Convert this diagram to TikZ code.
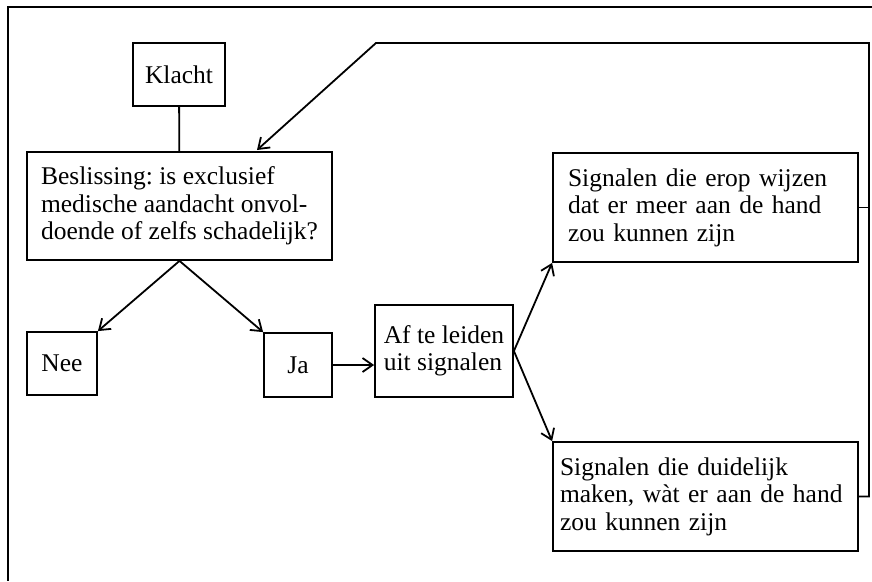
\documentclass[tikz,border=0pt]{standalone}
\usepackage{fontspec}
\setmainfont{Liberation Serif}
\usetikzlibrary{arrows.meta}
\frenchspacing

\begin{document}
\begin{tikzpicture}
  [x=1pt,y=-1pt,line width=1.8pt,>={Straight Barb[length=10pt,width=14pt]},
   every node/.style={draw,rectangle,inner sep=0pt,font=\fontsize{25.5}{27.5}\selectfont},
   txt/.style={align=left,minimum width=#1},
   ltxt/.style={align=left,text width=#1}]
  \useasboundingbox (0,0) rectangle (872,581);

  \node [minimum width=92pt,minimum height=63pt] (klacht) at (179,74.5) {Klacht};
  \node [txt=305pt,minimum height=108pt] (besl) at (179.5,206) {Beslissing: is exclusief\\ medische aandacht onvol-\\ doende of zelfs schadelijk?};
  \node [minimum width=70pt,minimum height=63pt] (nee) at (62,363.5) {Nee};
  \node [minimum width=68pt,minimum height=64pt] (ja) at (298,365) {Ja};
  \node [txt=138pt,minimum height=92pt] (af) at (444,351) {Af te leiden\\ uit signalen};
  \node [ltxt=275pt,inner xsep=15pt,minimum height=109pt] (sig1) at (705.5,207.5) {Signalen die erop wijzen\\ dat er meer aan de hand\\ zou kunnen zijn};
  \node [ltxt=291pt,inner xsep=7pt,minimum height=109pt] (sig2) at (705.5,496.5) {Signalen die duidelijk\\ maken, wàt er aan de hand\\ zou kunnen zijn};

  \coordinate (rand) at (8,7);
  \coordinate (hoek) at (869,43);
  \coordinate (knik) at (376,43);
  \coordinate (terug) at (257,150);

  \draw (rand -| 872,0) -- (rand) -- (rand |- 0,581);
  \draw (klacht) -- (besl);
  \foreach \from/\to in {besl.south/nee.north east,besl.south/ja.north west,af.east/sig1.south west,af.east/sig2.north west}
    \draw [->] (\from) -- (\to);
  \draw [->] (ja) -- (ja.east -| af.west);
  \draw (sig1.east) -- (sig1.east -| hoek);
  \draw [->] (sig2.east) -| (hoek) -- (knik) -- (terug);

\end{tikzpicture}
\end{document}
